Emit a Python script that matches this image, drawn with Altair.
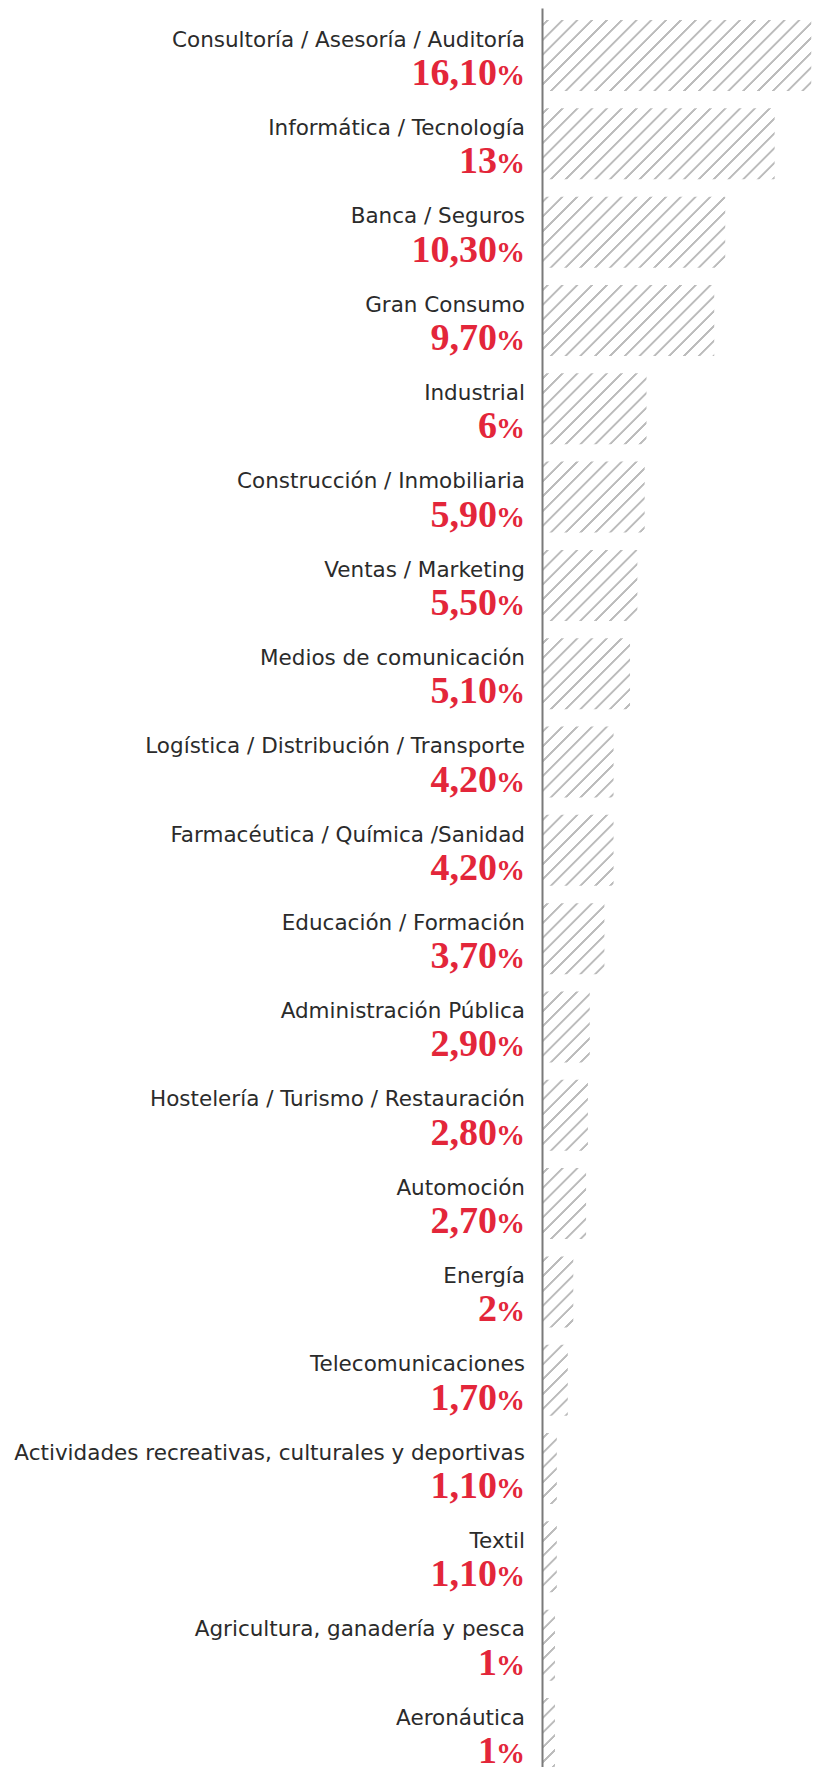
import altair as alt
import pandas as pd

categories = [
    "Consultoría / Asesoría / Auditoría",
    "Informática / Tecnología",
    "Banca / Seguros",
    "Gran Consumo",
    "Industrial",
    "Construcción / Inmobiliaria",
    "Ventas / Marketing",
    "Medios de comunicación",
    "Logística / Distribución / Transporte",
    "Farmacéutica / Química /Sanidad",
    "Educación / Formación",
    "Administración Pública",
    "Hostelería / Turismo / Restauración",
    "Automoción",
    "Energía",
    "Telecomunicaciones",
    "Actividades recreativas, culturales y deportivas",
    "Textil",
    "Agricultura, ganadería y pesca",
    "Aeronáutica",
]
values = [16.1, 13, 10.3, 9.7, 6, 5.9, 5.5, 5.1, 4.2, 4.2, 3.7, 2.9, 2.8, 2.7, 2, 1.7, 1.1, 1.1, 1, 1]
value_labels = ["16,10", "13", "10,30", "9,70", "6", "5,90", "5,50", "5,10", "4,20", "4,20",
                "3,70", "2,90", "2,80", "2,70", "2", "1,70", "1,10", "1,10", "1", "1"]

df = pd.DataFrame({"cat": categories, "value": values, "lab": value_labels})

# layout / style constants
PLOT_W = 270
PLOT_H = 1773
X0, XMAX = 0.25, 15.0
PAD_INNER, PAD_OUTER = 0.196, 0.136
RED = "#e3263a"
TXT = "#2b2b2b"
HATCH = "#bcbcbc"

# hatch gradient (45deg stripes), computed for the full-width band rect
step = PLOT_H / (len(categories) - PAD_INNER + 2 * PAD_OUTER)
BH = step * (1 - PAD_INNER)
W = PLOT_W
span = W + BH
c = span / (W * W + BH * BH)
period, thick, soft = 14.8, 3.6, 0.8
stops = []
k = 0
while k * period < span:
    o = k * period + 4
    for off, col in [(o, "#ffffff"), (o + soft, HATCH), (o + thick - soft, HATCH), (o + thick, "#ffffff")]:
        stops.append({"offset": min(max(off / span, 0), 1), "color": col})
    k += 1
gradient = {"gradient": "linear", "x1": 0, "y1": 0, "x2": W * c, "y2": BH * c, "stops": stops}

xscale = alt.Scale(domain=[X0, XMAX], nice=False, zero=False)
yenc = alt.Y(
    "cat:N",
    sort=categories,
    scale=alt.Scale(paddingInner=PAD_INNER, paddingOuter=PAD_OUTER),
    axis=alt.Axis(labels=False, ticks=False, title=None, grid=False,
                  domainColor="#7a7a7a", domainWidth=2, zindex=1),
)

base = alt.Chart(df)

hatch = base.mark_bar(fill=gradient, clip=True).encode(
    x=alt.XDatum(X0, type="quantitative", scale=xscale, axis=None),
    x2=alt.X2Datum(XMAX),
    y=yenc,
)

mask = base.mark_bar(fill="#ffffff", stroke="#ffffff", strokeWidth=1.5, clip=True).encode(
    x=alt.X("value:Q", scale=xscale, axis=None),
    x2=alt.X2Datum(XMAX),
    y=yenc,
)

names = base.mark_text(align="right", baseline="alphabetic", dx=-17, dy=-8.8,
                       font="DejaVu Sans", fontSize=21.5, color=TXT).encode(
    x=alt.value(0), y=yenc, text="cat:N")

nums = base.mark_text(align="right", baseline="alphabetic", dx=-45, dy=29.5,
                      font="Liberation Serif", fontWeight="bold", fontSize=38, color=RED).encode(
    x=alt.value(0), y=yenc, text="lab:N")

pcts = base.mark_text(align="right", baseline="alphabetic", dx=-17, dy=29.5,
                      font="Liberation Serif", fontWeight="bold", fontSize=29, color=RED).encode(
    x=alt.value(0), y=yenc, text=alt.value("%"))

chart = alt.layer(hatch, mask, names, nums, pcts).properties(
    width=PLOT_W,
    height=PLOT_H,
    autosize=alt.AutoSizeParams(type="none"),
    padding={"left": 534, "top": 0, "right": 0, "bottom": 0},
    background="#ffffff",
).configure_view(strokeWidth=0)

chart.save("out.html", embed_options={"renderer": "svg", "actions": False})
